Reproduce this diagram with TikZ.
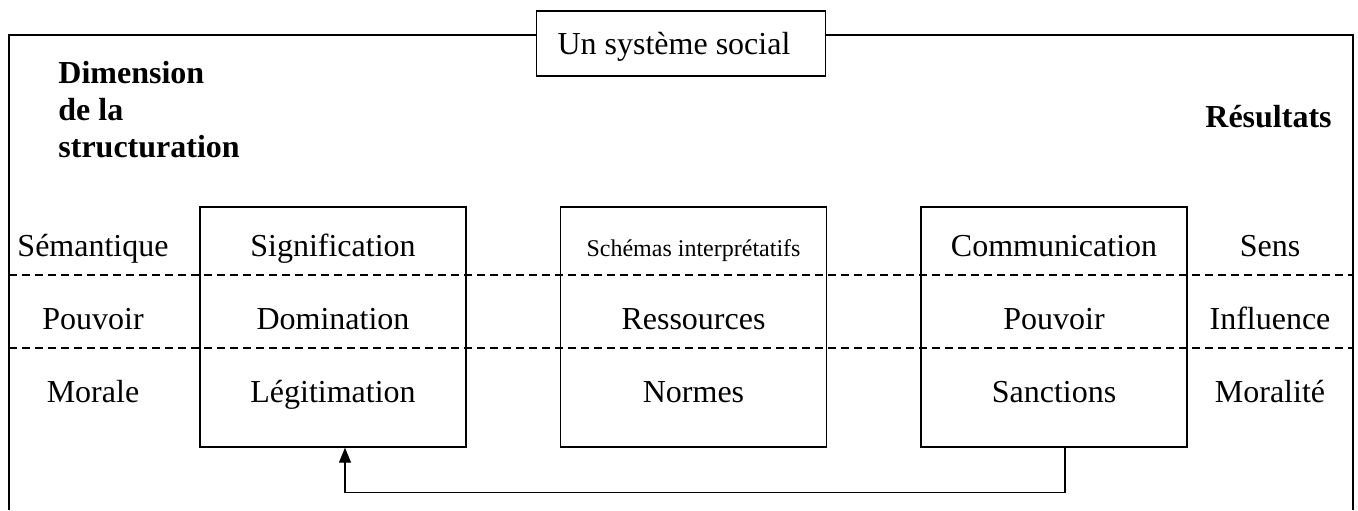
\documentclass[tikz,border=0pt]{standalone}
\usepackage{fontspec}
\setmainfont{Liberation Serif}
\usetikzlibrary{arrows.meta,calc}
\begin{document}
\begin{tikzpicture}[x=0.5pt,y=-0.5pt,
  frame/.style={line width=0.9pt},
  cellbox/.style={draw,line width=0.7pt,minimum width=133pt,minimum height=120pt,inner sep=0pt},
  titlebox/.style={draw,fill=white,line width=0.8pt,minimum width=144.5pt,minimum height=32.5pt,inner sep=0pt},
  lbl/.style={font=\fontsize{16}{18.4}\selectfont,anchor=base,inner sep=0pt},
  smalllbl/.style={font=\fontsize{12}{14}\selectfont,anchor=base,inner sep=0pt},
  head/.style={font=\fontsize{16}{18.4}\selectfont\bfseries,anchor=base west,inner sep=0pt},
  sep/.style={dashed,dash pattern=on 4pt off 2.5pt,line width=0.7pt},
  conn/.style={line width=0.7pt,-{Triangle[length=7.5pt,width=6pt]}}]
\useasboundingbox (0,0) rectangle (1358,510);
% outer frame
\coordinate (fbl) at (9,510);
\coordinate (ftl) at (9,35);
\coordinate (ftr) at (1353,35);
\coordinate (fbr) at (1353,510);
\draw[frame] (fbl) -- (ftl) -- (ftr) -- (fbr);
% dashed separators
\coordinate (d1l) at (9,275);
\coordinate (d1r) at (1353,275);
\coordinate (d2l) at (9,348);
\coordinate (d2r) at (1353,348);
\draw[sep] (d1l) -- (d1r);
\draw[sep] (d2l) -- (d2r);
% boxes
\node[cellbox] (box1) at (333,327) {};
\node[cellbox] (box2) at (693.5,327) {};
\node[cellbox] (box3) at (1054,327) {};
% title
\node[titlebox] (title) at (681,43.5) {};
\node[lbl] (titletext) at (674,54) {Un système social};
% headings
\node[head] (dim1) at (58,83) {Dimension};
\node[head] (dim2) at (58,120) {de la};
\node[head] (dim3) at (58,157) {structuration};
\node[head] (res) at (1205,127) {Résultats};
% left column
\node[lbl] (l1) at (93,256) {Sémantique};
\node[lbl] (l2) at (93,329) {Pouvoir};
\node[lbl] (l3) at (93,402) {Morale};
% box 1
\node[lbl] (a1) at (333,256) {Signification};
\node[lbl] (a2) at (333,329) {Domination};
\node[lbl] (a3) at (333,402) {Légitimation};
% box 2
\node[smalllbl] (b1) at (693.5,256) {Schémas interprétatifs};
\node[lbl] (b2) at (693.5,329) {Ressources};
\node[lbl] (b3) at (693.5,402) {Normes};
% box 3
\node[lbl] (c1) at (1054,256) {Communication};
\node[lbl] (c2) at (1054,329) {Pouvoir};
\node[lbl] (c3) at (1054,402) {Sanctions};
% right column
\node[lbl] (r1) at (1270,256) {Sens};
\node[lbl] (r2) at (1270,329) {Influence};
\node[lbl] (r3) at (1270,402) {Moralité};
% feedback arrow
\draw[conn] ([xshift=5.5pt]box3.south) -- ++(0,45) -| ([xshift=6pt]box1.south);
\end{tikzpicture}
\end{document}
